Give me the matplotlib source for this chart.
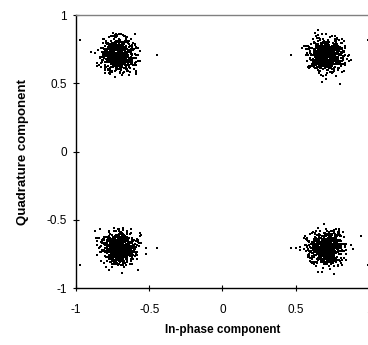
import numpy as np
import matplotlib
matplotlib.use("Agg")
import matplotlib.pyplot as plt

plt.rcParams['font.family'] = ['Liberation Sans', 'DejaVu Sans']

# QPSK symbol positions
centro_i = [-0.707, 0.707, -0.707, 0.707]
centro_q = [0.707, 0.707, -0.707, -0.707]
# noise spread of every cloud and number of received samples per symbol
sigma_ruido = 0.058
muestras_por_simbolo = 750

# isolated samples far from the clouds
aislados_i = [-0.97, -0.45, 0.47, 0.99, -0.45, -0.97, 0.47, 0.99]
aislados_q = [0.82, 0.71, 0.71, 0.82, -0.71, -0.83, -0.71, -0.83]

ticks = [-1, -0.5, 0, 0.5, 1]
tick_labels = ["-1", "-0.5", "0", "0.5", "1"]

# received samples = symbol + gaussian channel noise (fixed seed)
rng = np.random.default_rng(7)
puntos_i = []
puntos_q = []
for ci, cq in zip(centro_i, centro_q):
    puntos_i.append(ci + rng.normal(0, sigma_ruido, muestras_por_simbolo))
    puntos_q.append(cq + rng.normal(0, sigma_ruido, muestras_por_simbolo))
puntos_i = np.concatenate(puntos_i + [np.array(aislados_i)])
puntos_q = np.concatenate(puntos_q + [np.array(aislados_q)])

fig = plt.figure(figsize=(3.68, 3.45), dpi=100)
ax = fig.add_axes([0.2065, 0.1652, 0.7962, 0.7913])
ax.scatter(puntos_i, puntos_q, s=0.8, marker="s", c="black", linewidths=0)

ax.set_xlim(-1, 1)
ax.set_ylim(-1, 1)
ax.set_xticks(ticks)
ax.set_xticklabels(tick_labels)
ax.set_yticks(ticks)
ax.set_yticklabels(tick_labels)
ax.tick_params(direction="inout", length=5, width=0.8, labelsize=8.5, colors="black")
ax.tick_params(axis="x", pad=9)
ax.tick_params(axis="y", pad=4)

for lado in ["left", "bottom"]:
    ax.spines[lado].set_color("black")
    ax.spines[lado].set_linewidth(1.0)
ax.spines["top"].set_color("#808080")
ax.spines["top"].set_linewidth(1.0)
ax.spines["right"].set_visible(False)

ax.set_xlabel("In-phase component", fontsize=8.5, fontweight="bold", labelpad=6)
ax.set_ylabel("Quadrature component", fontsize=9.5, fontweight="bold", labelpad=13)

plt.savefig("out.png", dpi=100)
plt.close()
